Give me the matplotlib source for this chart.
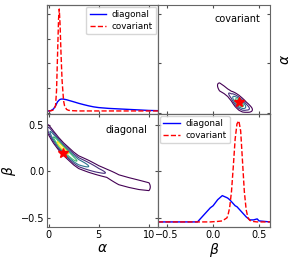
import numpy as np
import matplotlib
matplotlib.use("Agg")
import matplotlib.pyplot as plt

# 1D marginal of alpha (arbitrary density units)
alpha_grid = [0.0, 0.25, 0.5, 0.7, 0.8, 0.9, 1.0, 1.07, 1.15, 1.25, 1.35, 1.5, 1.6, 1.8,
              2.0, 2.5, 3.0, 3.5, 4.0, 4.5, 5.0, 6.0, 7.0, 8.0, 9.0, 10.0, 10.9]
alpha_diag = [0.0, 0.004, 0.02, 0.05, 0.07, 0.09, 0.1, 0.108, 0.113, 0.116, 0.117, 0.116, 0.114, 0.11,
              0.104, 0.09, 0.075, 0.062, 0.05, 0.04, 0.033, 0.025, 0.02, 0.015, 0.01, 0.005, 0.003]
alpha_cov = [0.0, 0.002, 0.01, 0.05, 0.2, 0.55, 0.9, 1.0, 0.85, 0.55, 0.3, 0.1, 0.05, 0.015,
             0.006, 0.002, 0.0, 0.0, 0.0, 0.0, 0.0, 0.0, 0.0, 0.0, 0.0, 0.0, 0.0]

# 1D marginal of beta (bottom-right panel)
beta_grid = [-0.6, -0.3, -0.17, -0.1, -0.05, -0.03, 0.0, 0.05, 0.1, 0.15, 0.16, 0.18, 0.2, 0.22,
             0.24, 0.26, 0.28, 0.3, 0.32, 0.34, 0.36, 0.38, 0.4, 0.44, 0.48, 0.5, 0.62]
beta_diag = [0.0, 0.0, 0.0, 0.07, 0.12, 0.14, 0.16, 0.22, 0.26, 0.24, 0.235, 0.22, 0.2, 0.18,
             0.16, 0.15, 0.13, 0.11, 0.09, 0.07, 0.05, 0.035, 0.02, 0.02, 0.03, 0.01, 0.0]
beta_cov = [0.0, 0.0, 0.0, 0.0, 0.0, 0.0, 0.002, 0.005, 0.01, 0.04, 0.06, 0.14, 0.3, 0.55,
            0.82, 0.97, 1.0, 0.9, 0.6, 0.3, 0.12, 0.04, 0.015, 0.004, 0.0, 0.0, 0.0]

# 2D posterior (diagonal): ridge beta(alpha), spread and peak height
ridge_alpha = [-0.2, 0.0, 0.5, 1.0, 1.5, 2.0, 2.5, 3.0, 4.0, 5.0, 5.8, 7.0, 8.0, 9.0, 10.0, 10.3]
ridge_beta = [0.47, 0.45, 0.37, 0.3, 0.24, 0.19, 0.14, 0.1, 0.055, 0.01, -0.02, -0.09, -0.12, -0.145, -0.165, -0.17]
ridge_sig = [0.025, 0.028, 0.028, 0.027, 0.027, 0.028, 0.029, 0.03, 0.031, 0.029, 0.028, 0.042, 0.043, 0.043, 0.04, 0.03]
ridge_pk = [0.0, 0.25, 0.6, 0.95, 1.0, 0.85, 0.7, 0.55, 0.35, 0.2, 0.14, 0.09, 0.085, 0.08, 0.07, 0.0]

# 2D posterior (covariant): ridge alpha(beta)
cov_beta = [0.04, 0.07, 0.12, 0.16, 0.2, 0.24, 0.28, 0.32, 0.36, 0.4, 0.44]
cov_alpha = [2.8, 2.6, 2.3, 2.0, 1.65, 1.3, 1.0, 0.75, 0.55, 0.38, 0.25]
cov_sig = [0.18, 0.25, 0.25, 0.25, 0.27, 0.3, 0.3, 0.29, 0.26, 0.22, 0.15]
cov_pk = [0.0, 0.15, 0.13, 0.13, 0.22, 0.6, 1.0, 0.7, 0.3, 0.13, 0.0]

levels = [0.04, 0.15, 0.35, 0.6, 0.85]
star_diag = (1.4, 0.2)
star_cov = (0.285, 1.05)

alim = (-0.15, 10.9)
blim = (-0.6, 0.62)

plt.rcParams['font.size'] = 7
plt.rcParams['axes.edgecolor'] = '0.4'
plt.rcParams['xtick.color'] = '0.3'
plt.rcParams['ytick.color'] = '0.3'
plt.rcParams['xtick.labelcolor'] = 'black'
plt.rcParams['ytick.labelcolor'] = 'black'


def fmt(v, p):
    return f'{v:.1f}'.replace('-', '\u2212')


fig = plt.figure(figsize=(2.91, 2.6), dpi=100)
L, M, R = 0.1615, 0.543, 0.928
B, MY, T = 0.127, 0.5615, 0.981
ax_a = fig.add_axes([L, MY, M - L, T - MY])
ax_c = fig.add_axes([M, MY, R - M, T - MY])
ax_d = fig.add_axes([L, B, M - L, MY - B])
ax_b = fig.add_axes([M, B, R - M, MY - B])

for ax in (ax_a, ax_c, ax_d, ax_b):
    ax.tick_params(direction='in', length=2.5, width=0.8, top=True, bottom=True, left=True, right=True,
                   labelsize=7, pad=2)

# top-left: alpha marginal
ax_a.set_xlim(alim)
ax_a.set_ylim(alim)
ax_a.set_xticks([0, 5, 10])
ax_a.tick_params(labelbottom=False, left=False, right=False, labelleft=False)
tw_a = ax_a.twinx()
tw_a.plot(alpha_grid, alpha_diag, 'b', lw=1.0, label='diagonal')
tw_a.plot(alpha_grid, alpha_cov, 'r--', lw=1.0, label='covariant')
tw_a.set_ylim(-0.03, 1.04)
tw_a.set_yticks([])
tw_a.legend(loc='upper right', fontsize=6.3, handlelength=1.9, borderpad=0.4, labelspacing=0.3,
            handletextpad=0.6, borderaxespad=0.2)

# top-right: covariant 2D
bb = np.linspace(blim[0], blim[1], 300)
aa = np.linspace(alim[0], alim[1], 300)
BB, AA = np.meshgrid(bb, aa)
Z_cov = np.interp(BB, cov_beta, cov_pk) * np.exp(
    -(AA - np.interp(BB, cov_beta, cov_alpha)) ** 2 / (2 * np.interp(BB, cov_beta, cov_sig) ** 2))
ax_c.contour(BB, AA, Z_cov, levels=levels, cmap='viridis', linewidths=0.8)
ax_c.plot(*star_cov, marker='*', color='red', ms=7)
ax_c.set_xlim(blim)
ax_c.set_ylim(alim)
ax_c.set_xticks([-0.5, 0, 0.5])
ax_c.set_yticks([0, 5, 10])
ax_c.tick_params(labelbottom=False, labelleft=False)
ax_c.yaxis.set_label_position('right')
ax_c.set_ylabel(r'$\alpha$', fontsize=10, labelpad=6)
ax_c.text(0.91, 0.87, 'covariant', transform=ax_c.transAxes, ha='right', va='center', fontsize=7)

# bottom-left: diagonal 2D
aa2 = np.linspace(alim[0], alim[1], 400)
bb2 = np.linspace(blim[0], blim[1], 400)
AA2, BB2 = np.meshgrid(aa2, bb2)
Z_diag = np.interp(AA2, ridge_alpha, ridge_pk) * np.exp(
    -(BB2 - np.interp(AA2, ridge_alpha, ridge_beta)) ** 2 / (2 * np.interp(AA2, ridge_alpha, ridge_sig) ** 2))
ax_d.contour(AA2, BB2, Z_diag, levels=levels, cmap='viridis', linewidths=0.8)
ax_d.plot(*star_diag, marker='*', color='red', ms=7)
ax_d.set_xlim(alim)
ax_d.set_ylim(blim)
ax_d.set_xticks([0, 5, 10])
ax_d.set_yticks([-0.5, 0.0, 0.5])
ax_d.yaxis.set_major_formatter(plt.FuncFormatter(fmt))
ax_d.set_xlabel(r'$\alpha$', fontsize=10, labelpad=1)
ax_d.set_ylabel(r'$\beta$', fontsize=10, labelpad=2)
ax_d.text(0.9, 0.857, 'diagonal', transform=ax_d.transAxes, ha='right', va='center', fontsize=7)

# bottom-right: beta marginal
ax_b.set_xlim(blim)
ax_b.set_ylim(blim)
ax_b.set_xticks([-0.5, 0.0, 0.5])
ax_b.set_yticks([-0.5, 0.0, 0.5])
ax_b.xaxis.set_major_formatter(plt.FuncFormatter(fmt))
ax_b.tick_params(labelleft=False, right=False)
ax_b.set_xlabel(r'$\beta$', fontsize=10, labelpad=1)
tw_b = ax_b.twinx()
tw_b.plot(beta_grid, beta_diag, 'b', lw=1.0, label='diagonal')
tw_b.plot(beta_grid, beta_cov, 'r--', lw=1.0, label='covariant')
tw_b.set_ylim(-0.05, 1.067)
tw_b.set_yticks([])
tw_b.legend(loc='upper left', fontsize=6.3, handlelength=1.9, borderpad=0.4, labelspacing=0.3,
            handletextpad=0.6, borderaxespad=0.2)

fig.savefig('out.png', dpi=100)
